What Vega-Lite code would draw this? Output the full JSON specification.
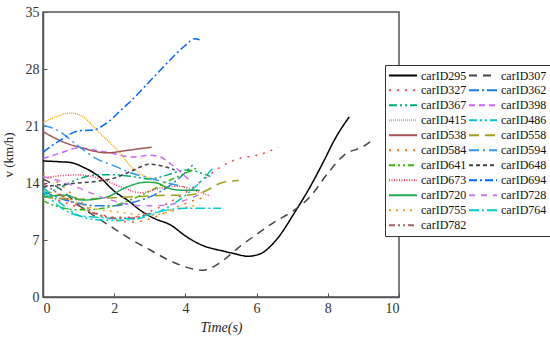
{
  "$schema": "https://vega.github.io/schema/vega-lite/v6.json",
  "autosize": "none",
  "width": 356,
  "height": 285,
  "padding": {"left": 43, "top": 12, "right": 151, "bottom": 42},
  "background": "white",
  "config": {
    "view": {"stroke": "#555", "strokeWidth": 1.5},
    "font": "Liberation Serif, DejaVu Serif, serif"
  },
  "data": {"values": [
    {"car":"carID295","t":0,"v":16.7},{"car":"carID295","t":0.5,"v":16.6},{"car":"carID295","t":0.8,"v":16.5},{"car":"carID295","t":1.1,"v":16.0},{"car":"carID295","t":1.6,"v":14.7},{"car":"carID295","t":2.0,"v":13.0},{"car":"carID295","t":2.4,"v":11.8},{"car":"carID295","t":2.75,"v":10.6},{"car":"carID295","t":3.1,"v":9.7},{"car":"carID295","t":3.6,"v":8.8},{"car":"carID295","t":4.0,"v":7.5},{"car":"carID295","t":4.5,"v":6.3},{"car":"carID295","t":5.0,"v":5.7},{"car":"carID295","t":5.4,"v":5.3},{"car":"carID295","t":5.75,"v":5.0},{"car":"carID295","t":6.1,"v":5.3},{"car":"carID295","t":6.55,"v":7.0},{"car":"carID295","t":7.1,"v":10.6},{"car":"carID295","t":7.5,"v":13.5},{"car":"carID295","t":7.9,"v":16.8},{"car":"carID295","t":8.2,"v":19.4},{"car":"carID295","t":8.6,"v":22.1},
    {"car":"carID307","t":0,"v":14.5},{"car":"carID307","t":0.5,"v":13.2},{"car":"carID307","t":1.0,"v":11.3},{"car":"carID307","t":1.5,"v":9.8},{"car":"carID307","t":2.0,"v":8.4},{"car":"carID307","t":2.5,"v":7.0},{"car":"carID307","t":3.0,"v":5.8},{"car":"carID307","t":3.5,"v":4.6},{"car":"carID307","t":4.0,"v":3.7},{"car":"carID307","t":4.5,"v":3.3},{"car":"carID307","t":5.0,"v":4.3},{"car":"carID307","t":5.5,"v":6.1},{"car":"carID307","t":6.0,"v":7.7},{"car":"carID307","t":6.5,"v":9.2},{"car":"carID307","t":7.0,"v":10.5},{"car":"carID307","t":7.5,"v":12.3},{"car":"carID307","t":8.0,"v":15.2},{"car":"carID307","t":8.45,"v":17.4},{"car":"carID307","t":9.0,"v":18.5},{"car":"carID307","t":9.3,"v":19.4},
    {"car":"carID327","t":0,"v":12.5},{"car":"carID327","t":0.5,"v":11.8},{"car":"carID327","t":1.0,"v":11.0},{"car":"carID327","t":1.5,"v":10.3},{"car":"carID327","t":2.0,"v":9.8},{"car":"carID327","t":2.5,"v":9.8},{"car":"carID327","t":3.0,"v":10.5},{"car":"carID327","t":3.5,"v":11.5},{"car":"carID327","t":4.0,"v":12.8},{"car":"carID327","t":4.5,"v":14.4},{"car":"carID327","t":5.0,"v":16.0},{"car":"carID327","t":5.5,"v":17.0},{"car":"carID327","t":6.0,"v":17.4},{"car":"carID327","t":6.3,"v":17.8},{"car":"carID327","t":6.6,"v":18.4},
    {"car":"carID362","t":0,"v":13.0},{"car":"carID362","t":0.5,"v":12.1},{"car":"carID362","t":1.0,"v":11.5},{"car":"carID362","t":1.5,"v":11.2},{"car":"carID362","t":2.0,"v":11.2},{"car":"carID362","t":2.5,"v":11.6},{"car":"carID362","t":3.0,"v":12.3},{"car":"carID362","t":3.5,"v":13.5},{"car":"carID362","t":4.0,"v":15.3},{"car":"carID362","t":4.2,"v":16.2},
    {"car":"carID367","t":0,"v":12.5},{"car":"carID367","t":0.5,"v":13.5},{"car":"carID367","t":1.0,"v":14.5},{"car":"carID367","t":1.5,"v":15.0},{"car":"carID367","t":2.0,"v":15.0},{"car":"carID367","t":2.5,"v":14.8},{"car":"carID367","t":3.0,"v":14.5},{"car":"carID367","t":3.5,"v":15.0},{"car":"carID367","t":4.0,"v":15.6},{"car":"carID367","t":4.7,"v":14.8},
    {"car":"carID398","t":0,"v":17.0},{"car":"carID398","t":0.5,"v":17.7},{"car":"carID398","t":1.0,"v":18.3},{"car":"carID398","t":1.5,"v":18.0},{"car":"carID398","t":2.0,"v":17.6},{"car":"carID398","t":2.5,"v":17.2},{"car":"carID398","t":3.0,"v":17.4},{"car":"carID398","t":3.3,"v":17.2},{"car":"carID398","t":3.6,"v":16.3},{"car":"carID398","t":3.9,"v":15.2},{"car":"carID398","t":4.1,"v":14.4},
    {"car":"carID415","t":0,"v":21.4},{"car":"carID415","t":0.4,"v":22.2},{"car":"carID415","t":0.8,"v":22.6},{"car":"carID415","t":1.1,"v":22.2},{"car":"carID415","t":1.6,"v":20.1},{"car":"carID415","t":2.1,"v":18.0},{"car":"carID415","t":2.5,"v":15.9},{"car":"carID415","t":3.0,"v":14.5},{"car":"carID415","t":3.5,"v":13.4},
    {"car":"carID486","t":0,"v":13.5},{"car":"carID486","t":0.5,"v":11.5},{"car":"carID486","t":1.0,"v":10.0},{"car":"carID486","t":1.5,"v":9.5},{"car":"carID486","t":2.0,"v":9.4},{"car":"carID486","t":2.5,"v":9.5},{"car":"carID486","t":3.0,"v":10.0},{"car":"carID486","t":3.5,"v":11.0},{"car":"carID486","t":4.0,"v":12.5},{"car":"carID486","t":4.5,"v":14.5},{"car":"carID486","t":4.8,"v":16.0},
    {"car":"carID538","t":0,"v":20.3},{"car":"carID538","t":0.65,"v":18.9},{"car":"carID538","t":1.1,"v":18.3},{"car":"carID538","t":1.8,"v":17.7},{"car":"carID538","t":2.35,"v":18.0},{"car":"carID538","t":3.05,"v":18.4},
    {"car":"carID558","t":0,"v":12.3},{"car":"carID558","t":0.5,"v":12.1},{"car":"carID558","t":1.0,"v":12.0},{"car":"carID558","t":1.5,"v":12.1},{"car":"carID558","t":2.0,"v":12.2},{"car":"carID558","t":2.5,"v":12.3},{"car":"carID558","t":3.0,"v":12.4},{"car":"carID558","t":3.5,"v":12.5},{"car":"carID558","t":4.0,"v":12.5},{"car":"carID558","t":4.5,"v":12.9},{"car":"carID558","t":5.0,"v":14.0},{"car":"carID558","t":5.5,"v":14.3},
    {"car":"carID584","t":0,"v":15.2},{"car":"carID584","t":0.5,"v":13.8},{"car":"carID584","t":1.0,"v":11.9},{"car":"carID584","t":1.5,"v":10.2},{"car":"carID584","t":2.0,"v":9.5},{"car":"carID584","t":2.5,"v":9.2},{"car":"carID584","t":3.0,"v":9.6},{"car":"carID584","t":3.5,"v":10.5},{"car":"carID584","t":4.0,"v":11.5},{"car":"carID584","t":4.5,"v":12.2},
    {"car":"carID594","t":0,"v":21.1},{"car":"carID594","t":0.4,"v":20.5},{"car":"carID594","t":1.0,"v":18.5},{"car":"carID594","t":1.5,"v":17.0},{"car":"carID594","t":2.0,"v":16.1},{"car":"carID594","t":2.5,"v":15.2},{"car":"carID594","t":3.0,"v":14.6},{"car":"carID594","t":3.5,"v":14.0},{"car":"carID594","t":4.0,"v":13.5},
    {"car":"carID641","t":0,"v":11.8},{"car":"carID641","t":0.5,"v":11.0},{"car":"carID641","t":1.0,"v":10.7},{"car":"carID641","t":1.5,"v":10.8},{"car":"carID641","t":2.0,"v":11.2},{"car":"carID641","t":2.5,"v":12.0},{"car":"carID641","t":3.0,"v":13.0},{"car":"carID641","t":3.5,"v":14.2},{"car":"carID641","t":4.0,"v":15.2},{"car":"carID641","t":4.3,"v":15.8},
    {"car":"carID648","t":0,"v":13.5},{"car":"carID648","t":0.5,"v":13.8},{"car":"carID648","t":1.0,"v":14.0},{"car":"carID648","t":1.5,"v":14.2},{"car":"carID648","t":2.0,"v":14.6},{"car":"carID648","t":2.5,"v":15.5},{"car":"carID648","t":3.0,"v":16.3},{"car":"carID648","t":3.5,"v":15.9},{"car":"carID648","t":3.7,"v":15.6},
    {"car":"carID673","t":0,"v":14.6},{"car":"carID673","t":0.5,"v":14.9},{"car":"carID673","t":1.0,"v":15.0},{"car":"carID673","t":1.7,"v":14.4},{"car":"carID673","t":2.25,"v":13.4},{"car":"carID673","t":2.75,"v":12.8},{"car":"carID673","t":3.3,"v":13.4},{"car":"carID673","t":3.8,"v":13.6},{"car":"carID673","t":4.3,"v":13.0},{"car":"carID673","t":4.7,"v":12.4},
    {"car":"carID694","t":0,"v":17.8},{"car":"carID694","t":0.5,"v":19.3},{"car":"carID694","t":1.0,"v":20.4},{"car":"carID694","t":1.4,"v":20.5},{"car":"carID694","t":1.8,"v":21.4},{"car":"carID694","t":2.25,"v":23.2},{"car":"carID694","t":2.5,"v":24.2},{"car":"carID694","t":3.0,"v":26.5},{"car":"carID694","t":3.5,"v":28.8},{"car":"carID694","t":4.0,"v":30.9},{"car":"carID694","t":4.25,"v":31.7},{"car":"carID694","t":4.4,"v":31.6},
    {"car":"carID720","t":0,"v":12.3},{"car":"carID720","t":0.65,"v":12.5},{"car":"carID720","t":1.1,"v":11.9},{"car":"carID720","t":1.8,"v":12.3},{"car":"carID720","t":2.35,"v":13.5},{"car":"carID720","t":2.9,"v":14.1},{"car":"carID720","t":3.2,"v":14.0},{"car":"carID720","t":3.5,"v":13.4},{"car":"carID720","t":3.95,"v":13.1},{"car":"carID720","t":4.4,"v":13.1},
    {"car":"carID728","t":0,"v":14.8},{"car":"carID728","t":0.5,"v":14.2},{"car":"carID728","t":1.0,"v":13.4},{"car":"carID728","t":1.5,"v":12.5},{"car":"carID728","t":2.0,"v":11.8},{"car":"carID728","t":2.5,"v":11.3},{"car":"carID728","t":3.0,"v":11.2},{"car":"carID728","t":3.5,"v":11.3},{"car":"carID728","t":4.0,"v":11.9},{"car":"carID728","t":4.5,"v":12.8},
    {"car":"carID755","t":0,"v":13.0},{"car":"carID755","t":0.5,"v":12.5},{"car":"carID755","t":1.0,"v":11.5},{"car":"carID755","t":1.5,"v":10.8},{"car":"carID755","t":2.0,"v":10.5},{"car":"carID755","t":2.5,"v":10.2},{"car":"carID755","t":3.0,"v":10.0},{"car":"carID755","t":3.5,"v":10.4},{"car":"carID755","t":4.0,"v":11.0},{"car":"carID755","t":4.4,"v":11.3},
    {"car":"carID764","t":0,"v":13.0},{"car":"carID764","t":0.5,"v":11.0},{"car":"carID764","t":1.0,"v":10.0},{"car":"carID764","t":1.5,"v":9.8},{"car":"carID764","t":2.0,"v":9.6},{"car":"carID764","t":2.5,"v":9.6},{"car":"carID764","t":3.0,"v":10.2},{"car":"carID764","t":3.5,"v":10.7},{"car":"carID764","t":4.0,"v":10.9},{"car":"carID764","t":4.5,"v":10.9},{"car":"carID764","t":5.0,"v":10.9},
    {"car":"carID782","t":0,"v":14.0},{"car":"carID782","t":0.5,"v":12.5},{"car":"carID782","t":1.0,"v":11.2},{"car":"carID782","t":1.5,"v":10.2},{"car":"carID782","t":2.0,"v":9.7},{"car":"carID782","t":2.5,"v":9.7},{"car":"carID782","t":3.0,"v":10.3}
  ]},
  "mark": {"type": "line", "interpolate": "monotone", "strokeWidth": 1.5},
  "encoding": {
    "x": {"field": "t", "type": "quantitative",
      "scale": {"domain": [0, 10], "nice": false},
      "axis": {"values": [0,2,4,6,8,10], "title": "Time(s)", "titleFontStyle": "italic", "titleFontWeight": "normal", "titleFontSize": 14, "titleColor": "#222", "titlePadding": 5,
        "grid": false, "tickSize": -4, "tickColor": "#555", "domainColor": "#555", "domainWidth": 1.5, "labelFontSize": 14, "labelColor": "#333", "labelPadding": 8, "labelFont": "Liberation Serif", "titleFont": "Liberation Serif"}},
    "y": {"field": "v", "type": "quantitative",
      "scale": {"domain": [0, 35], "nice": false},
      "axis": {"values": [0,7,14,21,28,35], "title": "v (km/h)", "titleFontWeight": "normal", "titleFontSize": 13, "titleColor": "#222", "titlePadding": 10,
        "grid": false, "tickSize": -4, "tickColor": "#555", "domainColor": "#555", "domainWidth": 1.5, "labelFontSize": 14, "labelColor": "#333", "labelPadding": 8, "labelFont": "Liberation Serif", "titleFont": "Liberation Serif"}},
    "color": {"field": "car", "type": "nominal",
      "scale": {
        "domain": ["carID295","carID307","carID327","carID362","carID367","carID398","carID415","carID486","carID538","carID558","carID584","carID594","carID641","carID648","carID673","carID694","carID720","carID728","carID755","carID764","carID782"],
        "range": ["#000000","#454545","#ff4040","#1e78e6","#00aa77","#cc66ff","#f5a800","#00c8c8","#a05555","#a0a020","#ff6a00","#3399ee","#33bb00","#404040","#ff3355","#0066ff","#22aa55","#cc77ee","#f0a020","#00cccc","#a06060"]},
      "legend": {"title": null, "orient": "none", "legendX": 342, "legendY": 53, "columns": 2, "direction": "horizontal",
        "strokeColor": "#333", "fillColor": "white", "padding": 3, "columnPadding": 1, "rowPadding": 0, "labelOffset": 3, "clipHeight": 14.4,
        "symbolType": "stroke", "symbolSize": 784, "symbolStrokeWidth": 2, "labelFont": "Liberation Serif", "labelFontSize": 12, "labelColor": "#111", "symbolLimit": 30}},
    "strokeDash": {"field": "car", "type": "nominal",
      "scale": {
        "domain": ["carID295","carID307","carID327","carID362","carID367","carID398","carID415","carID486","carID538","carID558","carID584","carID594","carID641","carID648","carID673","carID694","carID720","carID728","carID755","carID764","carID782"],
        "range": [[1,0],[8,6],[2,6],[10,3,2,3],[8,3,2,3,2,3],[6,4],[1,1],[8,3,2,3,2,3],[1,0],[10,6],[2,6],[10,4,2,4],[6,3,2,3,2,3],[4,3],[1,1.5],[8,3,2,3],[1,0],[6,6],[2,5],[10,3,2,3],[6,3,2,3,2,3]]},
      "legend": {"title": null, "orient": "none", "legendX": 342, "legendY": 53, "columns": 2, "direction": "horizontal",
        "strokeColor": "#333", "fillColor": "white", "padding": 3, "columnPadding": 1, "rowPadding": 0, "labelOffset": 3, "clipHeight": 14.4,
        "symbolType": "stroke", "symbolSize": 784, "symbolStrokeWidth": 2, "labelFont": "Liberation Serif", "labelFontSize": 12, "labelColor": "#111", "symbolLimit": 30}}
  }
}
